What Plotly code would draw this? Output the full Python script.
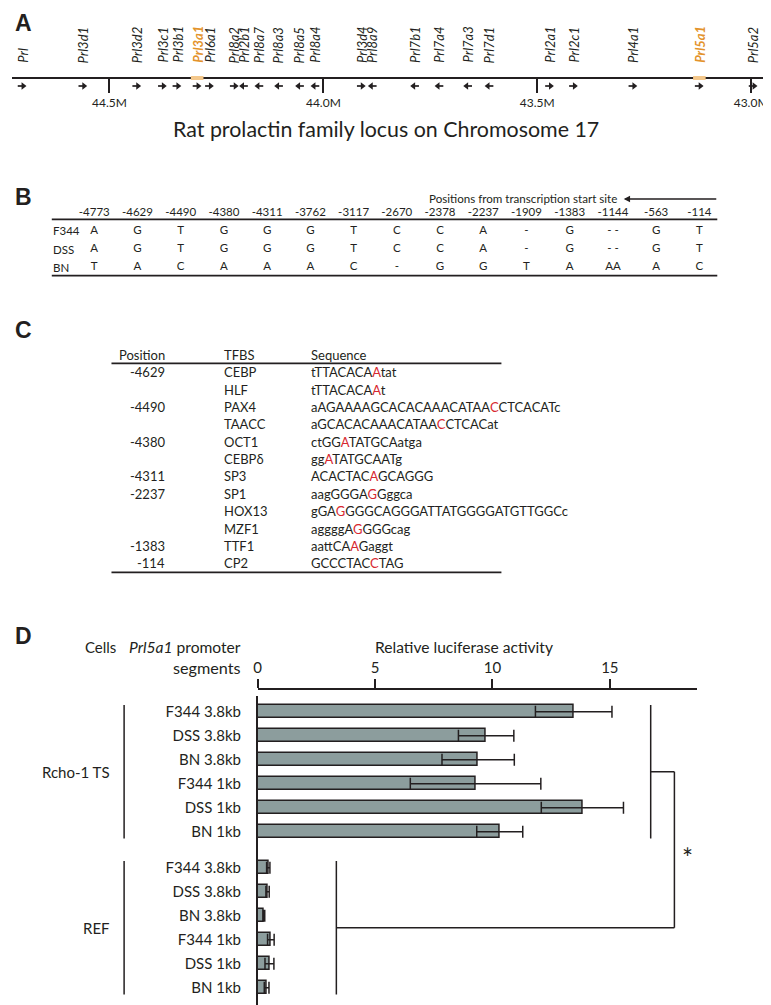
import plotly.graph_objects as go

# The page body has an 8px margin, so the figure is drawn 8px smaller and
# reference pixel coordinates are shifted by 8px.
OFF = 8
W, H = 771 - OFF, 1005 - OFF
INK = "#231f20"
FONT = "Lato"
ORANGE = "#E3932B"
RED = "#D7282F"
BAR_FILL = "#8C9D9D"

# ---------------- Panel A data ----------------
genes = ["Prl", "Prl3d1", "Prl3d2", "Prl3c1", "Prl3b1", "Prl3a1", "Prl6a1", "Prl8a2",
         "Prl2b1", "Prl8a7", "Prl8a3", "Prl8a5", "Prl8a4", "Prl3d4", "Prl8a9", "Prl7b1",
         "Prl7a4", "Prl7a3", "Prl7d1", "Prl2a1", "Prl2c1", "Prl4a1", "Prl5a1", "Prl5a2"]
gene_pos_mb = [44.704, 44.562, 44.436, 44.376, 44.342, 44.295, 44.266, 44.208,
               44.187, 44.151, 44.105, 44.056, 44.020, 43.911, 43.886, 43.787,
               43.730, 43.663, 43.613, 43.471, 43.415, 43.276, 43.121, 42.995]
strand = ["+", "+", "+", "+", "+", "+", "+", "+",
          "-", "-", "-", "-", "-", "+", "-", "-",
          "-", "-", "-", "+", "+", "+", "+", "+"]
highlight_genes = ["Prl3a1", "Prl5a1"]
locus_tickvals = [44.5, 44.0, 43.5, 43.0]
locus_ticktext = ["44.5M", "44.0M", "43.5M", "43.0M"]
locus_title = "Rat prolactin family locus on Chromosome 17"

# ---------------- Panel B data ----------------
snp_positions = ["-4773", "-4629", "-4490", "-4380", "-4311", "-3762", "-3117", "-2670",
                 "-2378", "-2237", "-1909", "-1383", "-1144", "-563", "-114"]
strains = ["F344", "DSS", "BN"]
alleles_F344 = ["A", "G", "T", "G", "G", "G", "T", "C", "C", "A", "-", "G", "- -", "G", "T"]
alleles_DSS = ["A", "G", "T", "G", "G", "G", "T", "C", "C", "A", "-", "G", "- -", "G", "T"]
alleles_BN = ["T", "A", "C", "A", "A", "A", "C", "-", "G", "G", "T", "A", "AA", "A", "C"]

# ---------------- Panel C data ----------------
tfbs_position = ["-4629", "", "-4490", "", "-4380", "", "-4311", "-2237", "", "", "-1383", "-114"]
tfbs_name = ["CEBP", "HLF", "PAX4", "TAACC", "OCT1", "CEBPδ", "SP3", "SP1", "HOX13", "MZF1", "TTF1", "CP2"]
tfbs_seq = ["tTTACACAAtat", "tTTACACAAt", "aAGAAAAGCACACAAACATAACCTCACATc",
            "aGCACACAAACATAACCTCACat", "ctGGATATGCAatga", "ggATATGCAATg",
            "ACACTACAGCAGGG", "aagGGGAGGggca", "gGAGGGGCAGGGATTATGGGGATGTTGGCc",
            "aggggAGGGGcag", "aattCAAGaggt", "GCCCTACCTAG"]
tfbs_snp_index = [8, 8, 21, 15, 4, 2, 7, 7, 3, 6, 6, 7]

# ---------------- Panel D data ----------------
cell_groups = ["Rcho-1 TS", "REF"]
segments = ["F344 3.8kb", "DSS 3.8kb", "BN 3.8kb", "F344 1kb", "DSS 1kb", "BN 1kb"]
luc_mean_rcho = [13.46, 9.73, 9.39, 9.28, 13.83, 10.31]
luc_err_rcho = [1.63, 1.18, 1.54, 2.78, 1.75, 0.98]
luc_mean_ref = [0.45, 0.42, 0.27, 0.56, 0.50, 0.38]
luc_err_ref = [0.07, 0.07, 0.03, 0.14, 0.19, 0.10]
luc_tickvals = [0, 5, 10, 15]


def px(x):
    return (x - OFF) / W


def py(y):
    return 1 - (y - OFF) / H


fig = go.Figure()
ann = []
shapes = []

# ======== Panel A ========
A_AXIS_Y = 78.0
A_BOTTOM = 100.0


def ya(ypx):
    return (A_BOTTOM - ypx) / (A_BOTTOM - OFF)


mb_per_px = 0.5 / 215.0
a_left = 44.5 + (106 - OFF) * mb_per_px
a_right = 44.5 - (771 - 106) * mb_per_px

hl_x = [p for g, p in zip(genes, gene_pos_mb) if g in highlight_genes]
fig.add_trace(go.Scatter(x=hl_x, y=[ya(A_AXIS_Y)] * len(hl_x), mode="markers", xaxis="x", yaxis="y",
                         marker=dict(symbol="line-ew", size=9, line=dict(width=4, color="#F4C88C")),
                         cliponaxis=False, hoverinfo="skip", showlegend=False))

# strand arrows: a short shaft plus a triangular head (axis runs high -> low Mb)
shaft_x, shaft_y, head_x, head_sym = [], [], [], []
for p, s in zip(gene_pos_mb, strand):
    d = 1 if s == "+" else -1
    shaft_x += [p + 4.5 * d * mb_per_px, p - 1.0 * d * mb_per_px, None]
    shaft_y += [ya(86), ya(86), None]
    head_x.append(p - 1.0 * d * mb_per_px)
    head_sym.append("triangle-right" if d == 1 else "triangle-left")
fig.add_trace(go.Scatter(x=shaft_x, y=shaft_y, mode="lines", xaxis="x", yaxis="y",
                         line=dict(color=INK, width=1.7), cliponaxis=False,
                         hoverinfo="skip", showlegend=False))
fig.add_trace(go.Scatter(x=head_x, y=[ya(86)] * len(head_x), mode="markers", xaxis="x", yaxis="y",
                         marker=dict(symbol=head_sym, size=6.5, color=INK, line=dict(width=0)),
                         cliponaxis=False, hoverinfo="skip", showlegend=False))

for g, p in zip(genes, gene_pos_mb):
    hl = g in highlight_genes
    ann.append(dict(x=p, y=ya(65), xref="x", yref="y", text=("<b><i>%s</i></b>" if hl else "<i>%s</i>") % g,
                    textangle=-90, xanchor="center", yanchor="bottom", showarrow=False,
                    font=dict(family=FONT, size=13, color=ORANGE if hl else INK)))
ann.append(dict(x=px(384), y=py(129), xref="paper", yref="paper", text=locus_title, showarrow=False,
                xanchor="center", yanchor="middle", font=dict(family=FONT, size=21.4, color=INK)))

# ======== Panel B ========
B_COL0, B_COLSTEP = 90.7, 43.45
B_ROW0, B_ROWSTEP = 212.7, 18.3
bfont = dict(family=FONT, size=11.5, color=INK)
bx, by, bt = [], [], []
for i, p in enumerate(snp_positions):
    bx.append(i); by.append(0); bt.append(p)
for r, row in enumerate([alleles_F344, alleles_DSS, alleles_BN], start=1):
    for i, a in enumerate(row):
        bx.append(i); by.append(r); bt.append(a)
fig.add_trace(go.Scatter(x=bx, y=by, text=bt, mode="text", xaxis="x2", yaxis="y2",
                         textfont=bfont, textposition="middle center",
                         cliponaxis=False, hoverinfo="skip", showlegend=False))
for r, s in enumerate(strains, start=1):
    ann.append(dict(x=px(47), y=r, xref="paper", yref="y2", text=s, showarrow=False,
                    xanchor="left", yanchor="middle", font=bfont))
ann.append(dict(x=px(425), y=py(199), xref="paper", yref="paper", text="Positions from transcription start site",
                showarrow=False, xanchor="left", yanchor="middle", font=dict(family=FONT, size=11.6, color=INK)))
ann.append(dict(x=px(623), y=py(199), xref="paper", yref="paper", text="", showarrow=True,
                ax=717 - 623, ay=0, axref="pixel", ayref="pixel",
                arrowhead=2, arrowsize=0.9, arrowwidth=1.4, arrowcolor=INK, standoff=0, startstandoff=0))
for yy in [219.3, 275.7]:
    shapes.append(dict(type="line", xref="paper", yref="paper", x0=px(48), x1=px(717), y0=py(yy), y1=py(yy),
                       line=dict(color=INK, width=1.8)))

# ======== Panel C ========
C_ROW0, C_ROWSTEP = 355.0, 17.35
fig.add_trace(go.Scatter(x=[100], y=[0], mode="markers", xaxis="x3", yaxis="y3", marker=dict(opacity=0),
                         hoverinfo="skip", showlegend=False))
cfont = dict(family=FONT, size=13, color=INK)
ann.append(dict(x=164, y=0, xref="x3", yref="y3", text="Position", xanchor="right", showarrow=False, font=cfont))
ann.append(dict(x=219, y=0, xref="x3", yref="y3", text="TFBS", xanchor="left", showarrow=False, font=cfont))
ann.append(dict(x=307, y=0, xref="x3", yref="y3", text="Sequence", xanchor="left", showarrow=False, font=cfont))
for k, (pos, name, seq, idx) in enumerate(zip(tfbs_position, tfbs_name, tfbs_seq, tfbs_snp_index), start=1):
    if pos:
        ann.append(dict(x=164, y=k, xref="x3", yref="y3", text=pos, xanchor="right", showarrow=False, font=cfont))
    ann.append(dict(x=219, y=k, xref="x3", yref="y3", text=name, xanchor="left", showarrow=False, font=cfont))
    rich = seq[:idx] + "<span style='color:%s'>%s</span>" % (RED, seq[idx]) + seq[idx + 1:]
    ann.append(dict(x=307, y=k, xref="x3", yref="y3", text=rich, xanchor="left", showarrow=False, font=cfont))
for yy in [363.3, 572.3]:
    shapes.append(dict(type="line", xref="paper", yref="paper", x0=px(108), x1=px(500), y0=py(yy), y1=py(yy),
                       line=dict(color=INK, width=1.8)))

# ======== Panel D ========
D_ROW0, D_ROWSTEP = 711.7, 24.0
ypos, labels, means, errs = [], [], [], []
for gi, (m_list, e_list) in enumerate([(luc_mean_rcho, luc_err_rcho), (luc_mean_ref, luc_err_ref)]):
    for si, seg in enumerate(segments):
        ypos.append(gi * (len(segments) + 0.5) + si)
        labels.append(seg)
        means.append(m_list[si])
        errs.append(e_list[si])
fig.add_trace(go.Bar(x=means, y=ypos, orientation="h", xaxis="x4", yaxis="y4", width=0.56,
                     marker=dict(color=BAR_FILL, line=dict(color=INK, width=1.5)),
                     error_x=dict(type="data", array=errs, symmetric=True, color=INK, thickness=1.5, width=6),
                     hoverinfo="skip", showlegend=False))

dfont = dict(family=FONT, size=15, color=INK)
dfont2 = dict(family=FONT, size=15.6, color=INK)
# group brackets and labels
for gi, g in enumerate(cell_groups):
    first = gi * (len(segments) + 0.5)
    last = first + len(segments) - 1
    shapes.append(dict(type="line", xref="paper", yref="y4", x0=px(120.7), x1=px(120.7),
                       y0=first - 0.28, y1=last + 0.28, line=dict(color=INK, width=1.5)))
    ann.append(dict(x=px(109), y=(first + last) / 2, xref="paper", yref="y4", text=g, xanchor="right",
                    yanchor="middle", showarrow=False, font=dfont))

# significance bracket
g1_mid = (len(segments) - 1) / 2
g2_first = len(segments) + 0.5
g2_mid = g2_first + (len(segments) - 1) / 2
g2_last = g2_first + len(segments) - 1
xa, xb, xc = 16.74, 17.75, 3.35
sig_lines = [
    (xa, xa, -0.28, len(segments) - 1 + 0.28),
    (xa, xb, g1_mid, g1_mid),
    (xb, xb, g1_mid, g2_mid),
    (xb, xc, g2_mid, g2_mid),
    (xc, xc, g2_first - 0.28, g2_last + 0.28),
]
for x0, x1, y0, y1 in sig_lines:
    shapes.append(dict(type="line", xref="x4", yref="y4", x0=x0, x1=x1, y0=y0, y1=y1,
                       line=dict(color=INK, width=1.5)))
ann.append(dict(x=18.3, y=6.1, xref="x4", yref="y4", text="*", showarrow=False,
                font=dict(family=FONT, size=26, color=INK)))

ann.append(dict(x=px(79), y=py(647), xref="paper", yref="paper", text="Cells", xanchor="left",
                showarrow=False, font=dfont))
ann.append(dict(x=px(240), y=py(647), xref="paper", yref="paper", text="<i>Prl5a1</i> promoter",
                xanchor="right", showarrow=False, font=dfont2))
ann.append(dict(x=px(240), y=py(667), xref="paper", yref="paper", text="segments",
                xanchor="right", showarrow=False, font=dict(family=FONT, size=16.2, color=INK)))
ann.append(dict(x=px(462), y=py(647), xref="paper", yref="paper", text="Relative luciferase activity",
                xanchor="center", showarrow=False, font=dfont2))

# panel letters
letter_font = dict(family="Liberation Sans", size=23, color=INK)
ann.append(dict(x=px(9), y=1, xref="paper", yref="paper", text="<b>A</b>", xanchor="left", yanchor="top",
                showarrow=False, font=letter_font))
for letter, yc in [("B", 196.5), ("C", 329.5), ("D", 635.5)]:
    ann.append(dict(x=px(9), y=py(yc), xref="paper", yref="paper", text="<b>%s</b>" % letter,
                    xanchor="left", yanchor="middle", showarrow=False, font=letter_font))

d_unit = 118.0 / 5
d_xmax = (697 - 255) / d_unit

fig.update_layout(
    width=W, height=H, margin=dict(l=0, r=0, t=0, b=0),
    paper_bgcolor="white", plot_bgcolor="white",
    font=dict(family=FONT, color=INK),
    annotations=ann, shapes=shapes, bargap=0,
    xaxis=dict(domain=[0, 1], anchor="free", position=py(A_AXIS_Y), range=[a_left, a_right],
               tickvals=locus_tickvals, ticktext=locus_ticktext, ticks="outside", ticklen=14, tickwidth=2,
               tickcolor=INK, showline=True, linewidth=2, linecolor=INK, showgrid=False, zeroline=False,
               tickfont=dict(family=FONT, size=12, color=INK), layer="below traces", fixedrange=True),
    yaxis=dict(domain=[py(A_BOTTOM), 1], anchor="x", range=[0, 1], visible=False, fixedrange=True),
    xaxis2=dict(domain=[0, 1], anchor="y2",
                range=[-(B_COL0 - OFF) / B_COLSTEP, (771 - B_COL0) / B_COLSTEP], visible=False),
    yaxis2=dict(domain=[py(290), py(180)], anchor="x2",
                range=[(290 - B_ROW0) / B_ROWSTEP, (180 - B_ROW0) / B_ROWSTEP], visible=False),
    xaxis3=dict(domain=[0, 1], anchor="y3", range=[OFF, 771], visible=False),
    yaxis3=dict(domain=[py(585), py(340)], anchor="x3",
                range=[(585 - C_ROW0) / C_ROWSTEP, (340 - C_ROW0) / C_ROWSTEP], visible=False),
    xaxis4=dict(domain=[px(255), px(697)], anchor="free", position=py(689), side="top",
                range=[0, d_xmax], tickvals=luc_tickvals, ticks="outside", ticklen=9, tickwidth=1.5,
                tickcolor=INK, showline=True, linewidth=1.5, linecolor=INK, showgrid=False, zeroline=False,
                tickfont=dfont, fixedrange=True),
    yaxis4=dict(domain=[0, py(696)], anchor="x4",
                range=[(1005 - D_ROW0) / D_ROWSTEP, (696 - D_ROW0) / D_ROWSTEP],
                tickvals=ypos, ticktext=labels, ticks="", showline=True, linewidth=1.5, linecolor=INK,
                showgrid=False, zeroline=False, tickfont=dfont, ticklabelstandoff=12, fixedrange=True),
)

fig.write_html("out.html")
